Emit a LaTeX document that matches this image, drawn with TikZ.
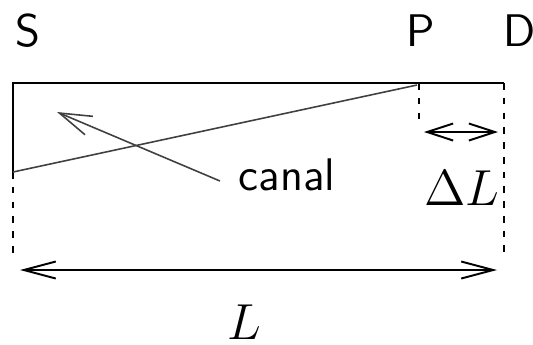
\documentclass[tikz,border=0pt]{standalone}
\usetikzlibrary{arrows.meta}
\begin{document}
\begin{tikzpicture}[x=0.01cm,y=-0.01cm,
  lab/.style={inner sep=0pt,font=\fontsize{13}{15}\sffamily},
  mlab/.style={inner sep=0pt,font=\fontsize{15}{17}\selectfont},
  wall/.style={line width=0.7pt},
  chan/.style={line width=0.45pt,black!75},
  dimarrow/.style={line width=0.55pt,{Straight Barb[length=0.32cm,width=0.17cm]}-{Straight Barb[length=0.32cm,width=0.17cm]}},
  smalldim/.style={line width=0.55pt,{Straight Barb[length=0.26cm,width=0.17cm]}-{Straight Barb[length=0.26cm,width=0.17cm]}},
  guide/.style={line width=0.65pt,dash pattern=on 1.9pt off 2.3pt}]
\useasboundingbox (0,0) rectangle (533,344);
% labels
\node[lab] (S) at (28,31) {S};
\node[lab] (P) at (421,31) {P};
\node[lab] (D) at (520,31) {D};
\node[lab] (canal) at (287,175) {canal};
\node[mlab] (dL) at (462,188) {$\Delta L$};
\node[mlab] (L) at (244,322) {$L$};
% geometry points
\coordinate (TL) at (13,83);
\coordinate (TR) at (504,83);
\coordinate (SB) at (13,172);
\coordinate (PT) at (419,83);
\coordinate (PB) at (419,125);
\coordinate (LB) at (13,259);
\coordinate (RB) at (504,259);
\coordinate (CE) at (417,85);
\coordinate (cstart) at (220,181);
\coordinate (ctip) at (57,112);
\coordinate (dl1) at (424,132);
\coordinate (dl2) at (498,132);
\coordinate (L1) at (20,270);
\coordinate (L2) at (497,270);
% box
\draw[wall] (SB) -- (TL) -- (TR);
\draw[guide] (SB) -- (LB);
\draw[guide] (TR) -- (RB);
\draw[guide] (PT) -- (PB);
% channel
\draw[chan] (SB) -- (CE);
\draw[chan,-{Straight Barb[length=0.32cm,width=0.2cm]}] (cstart) -- (ctip);
% dimensions
\draw[smalldim] (dl1) -- (dl2);
\draw[dimarrow] (L1) -- (L2);
\end{tikzpicture}
\end{document}
